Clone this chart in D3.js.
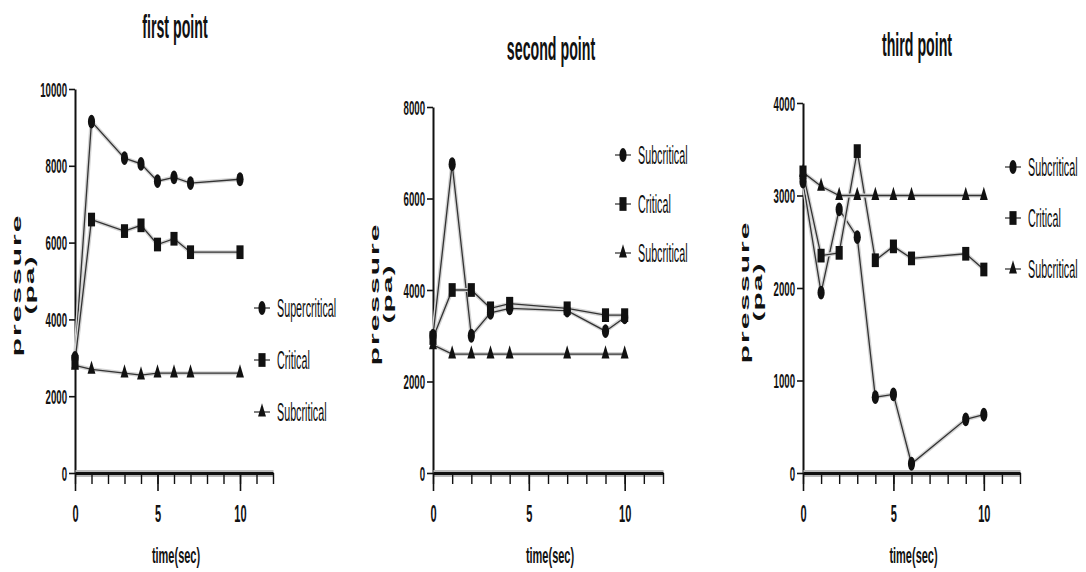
<!DOCTYPE html>
<html>
<head>
<meta charset="utf-8">
<script src="https://cdn.jsdelivr.net/npm/d3@7"></script>
<style>
  body { margin: 0; background: #fff; }
  svg { display: block; }
</style>
</head>
<body>
<svg id="chart"></svg>
<script>
// ---- data ----
const titles = ['first point', 'second point', 'third point']

const time1 = [0, 1, 3, 4, 5, 6, 7, 10]
const super1 = [3000, 9150, 8200, 8050, 7600, 7700, 7550, 7650]
const crit1 = [2900, 6600, 6300, 6450, 5950, 6100, 5750, 5750]
const sub1 = [2800, 2700, 2600, 2550, 2600, 2600, 2600, 2600]
const names1 = ['Supercritical', 'Critical', 'Subcritical']

const time2 = [0, 1, 2, 3, 4, 7, 9, 10]
const subA2 = [3000, 6750, 3000, 3500, 3600, 3550, 3100, 3400]
const crit2 = [2950, 4000, 4000, 3600, 3700, 3600, 3450, 3450]
const subB2 = [2800, 2600, 2600, 2600, 2600, 2600, 2600, 2600]
const names2 = ['Subcritical', 'Critical', 'Subcritical']

const time3 = [0, 1, 2, 3, 4, 5, 6, 9, 10]
const subA3 = [3150, 1950, 2850, 2550, 820, 850, 100, 580, 630]
const crit3 = [3250, 2350, 2380, 3480, 2300, 2450, 2320, 2370, 2200]
const subB3 = [3250, 3100, 3000, 3000, 3000, 3000, 3000, 3000, 3000]
const names3 = ['Subcritical', 'Critical', 'Subcritical']

const yTicks1 = [0, 2000, 4000, 6000, 8000, 10000]
const yTicks2 = [0, 2000, 4000, 6000, 8000]
const yTicks3 = [0, 1000, 2000, 3000, 4000]
const xTicks = [0, 5, 10]
const xMax = 12
const xLabel = 'time(sec)'
const yLabel = ['pressure', '(pa)']

// ---- layout ----
const W = 1086, H = 572
const SQ = 0.46   // the picture is squeezed sideways
const FONT = '"Liberation Sans", Arial, sans-serif'
const shapes = [d3.symbolCircle, d3.symbolSquare, d3.symbolTriangle]
const shapeSize = [120, 150, 80]

const panels = [
    {time: time1, series: [super1, crit1, sub1], names: names1, yTicks: yTicks1,
     left: 75, right: 273, top: 89, title: [175, 38], legend: [262, 308, 52]},
    {time: time2, series: [subA2, crit2, subB2], names: names2, yTicks: yTicks2,
     left: 433, right: 663, top: 107, title: [551, 60], legend: [623, 155, 49]},
    {time: time3, series: [subA3, crit3, subB3], names: names3, yTicks: yTicks3,
     left: 803, right: 1020, top: 103, title: [917, 56], legend: [1013, 167, 51]}
]
const bottom = 473

const svg = d3.select('#chart').attr('width', W).attr('height', H)
    .style('font-family', FONT)

function label(g, x, y, s, size, weight, anchor, sx) {
    return g.append('text')
        .attr('transform', 'translate(' + x + ',' + y + ') scale(' + sx + ',1)')
        .attr('text-anchor', anchor)
        .attr('font-size', size)
        .attr('font-weight', weight)
        .attr('fill', '#111')
        .text(s)
}

panels.forEach((p, pi) => {
    let g = svg.append('g')
    let yMax = p.yTicks[p.yTicks.length - 1]

    let scale_x = d3.scaleLinear().domain([0, xMax]).range([p.left, p.right])
    let scale_y = d3.scaleLinear().domain([0, yMax]).range([bottom, p.top])

    // title
    label(g, p.title[0], p.title[1], titles[pi], 33, 'bold', 'middle', 0.43)

    // y axis
    let yAxis = g.append('g')
        .attr('transform', 'translate(' + p.left + ',0)')
        .call(d3.axisLeft(scale_y).tickValues(p.yTicks).tickSize(6).tickSizeOuter(0)
            .tickFormat(d3.format('d')))
    yAxis.select('.domain').attr('stroke', '#111').attr('stroke-width', 2)
    yAxis.selectAll('.tick line').attr('stroke', '#111').attr('stroke-width', 1.6)
    yAxis.selectAll('.tick text')
        .attr('x', null).attr('dy', null)
        .attr('transform', 'translate(-8,7) scale(' + SQ + ',1)')
        .attr('font-size', 21).attr('font-weight', 'bold')
        .attr('font-family', FONT).attr('fill', '#111')

    // x axis: minor ticks every second, labels at 0, 5, 10
    let xAxisMinor = g.append('g')
        .attr('transform', 'translate(0,' + bottom + ')')
        .call(d3.axisBottom(scale_x).tickValues(d3.range(0, xMax + 1)).tickSize(11)
            .tickSizeOuter(0).tickFormat(''))
    xAxisMinor.select('.domain').attr('stroke', '#bbb').attr('stroke-width', 7)
    xAxisMinor.selectAll('.tick line').attr('stroke', '#111').attr('stroke-width', 1.4)

    let xAxis = g.append('g')
        .attr('transform', 'translate(0,' + bottom + ')')
        .call(d3.axisBottom(scale_x).tickValues(xTicks).tickSize(18).tickSizeOuter(0))
    xAxis.select('.domain').attr('stroke', '#111').attr('stroke-width', 3)
    xAxis.selectAll('.tick line').attr('stroke', '#111').attr('stroke-width', 1.6)
    xAxis.selectAll('.tick text')
        .attr('y', null).attr('dy', null)
        .attr('transform', 'translate(0,49) scale(' + SQ + ',1)')
        .attr('font-size', 24).attr('font-weight', 'bold')
        .attr('font-family', FONT).attr('fill', '#111')

    // axis titles
    label(g, (p.left + p.right) / 2 + 2, 563, xLabel, 22, 'bold', 'middle', 0.5)
    let yMid = (bottom + p.top) / 2 + 4
    g.append('text')
        .attr('transform', 'translate(' + (p.left - 54) + ',' + yMid + ') rotate(-90) scale(1,0.42)')
        .attr('text-anchor', 'middle').attr('font-size', 30).attr('font-weight', 'bold')
        .attr('letter-spacing', 2).attr('fill', '#111')
        .text(yLabel[0])
    g.append('text')
        .attr('transform', 'translate(' + (p.left - 41) + ',' + yMid + ') rotate(-90) scale(1,0.42)')
        .attr('text-anchor', 'middle').attr('font-size', 30).attr('font-weight', 'bold')
        .attr('letter-spacing', 1).attr('fill', '#111')
        .text(yLabel[1])

    // lines
    let linePath = d3.line()
        .x(d => scale_x(d[0]))
        .y(d => scale_y(d[1]))
    p.series.forEach(values => {
        let pts = p.time.map((t, i) => [t, values[i]])
        g.append('path')
            .attr('fill', 'none').attr('stroke', '#d4d4d4').attr('stroke-width', 4)
            .attr('d', linePath(pts))
        g.append('path')
            .attr('fill', 'none').attr('stroke', '#333').attr('stroke-width', 1.3)
            .attr('d', linePath(pts))
    })

    // markers
    p.series.forEach((values, si) => {
        let sym = d3.symbol().type(shapes[si]).size(shapeSize[si])
        g.selectAll(null)
            .data(p.time.map((t, i) => [t, values[i]]))
            .enter().append('path')
            .attr('d', sym)
            .attr('transform', d => 'translate(' + scale_x(d[0]) + ',' + scale_y(d[1]) + ') scale(0.58,1.12)')
            .attr('fill', '#111')
    })

    // legend
    p.names.forEach((name, si) => {
        let lx = p.legend[0], ly = p.legend[1] + si * p.legend[2]
        g.append('line')
            .attr('x1', lx - 8).attr('x2', lx + 8).attr('y1', ly).attr('y2', ly)
            .attr('stroke', '#555').attr('stroke-width', 1.5)
        g.append('path')
            .attr('d', d3.symbol().type(shapes[si]).size(shapeSize[si]))
            .attr('transform', 'translate(' + lx + ',' + ly + ') scale(0.58,1.12)')
            .attr('fill', '#111')
        label(g, lx + 15, ly + 9, name, 25, 'normal', 'start', 0.43)
    })
})
</script>
</body>
</html>
